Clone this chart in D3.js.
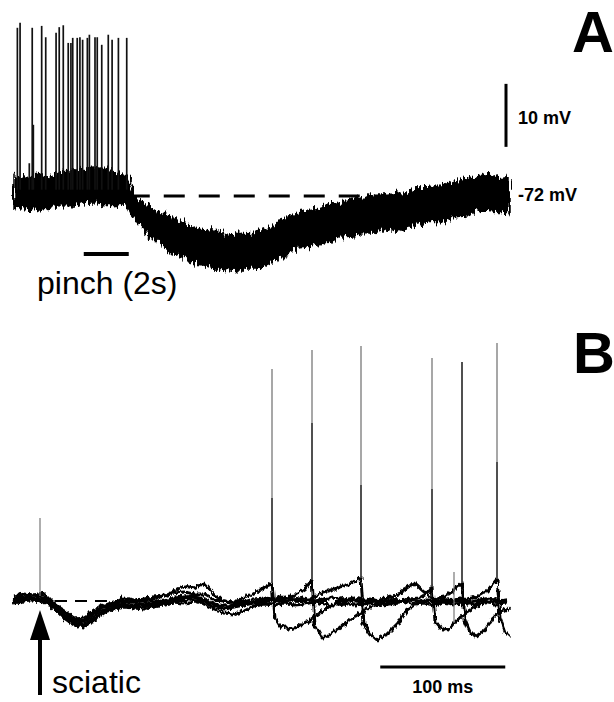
<!DOCTYPE html>
<html>
<head>
<meta charset="utf-8">
<script src="https://cdn.jsdelivr.net/npm/d3@7"></script>
<style>
body { margin: 0; background: #fff; }
text { font-family: "Liberation Sans", Arial, Helvetica, sans-serif; fill: #000; }
</style>
</head>
<body>
<div id="chart"></div>
<script>
// ---- panel A: response to pinch (time in s, potential in mV) ----
var timeA = [0,0.5,1,1.5,2,2.5,3,3.5,4,4.5,5,5.5,6,6.5,7,7.5,8,8.5,9,9.5,10,10.5,
             11,11.5,12,12.5,13,13.5,14,14.5,15,15.5,16,16.5,17,17.5,18,18.5,19,19.5,20,20.5,21,21.5,22];
// upper and lower edge of the noisy trace
var hiA = [-68.6,-69.2,-68.4,-69.0,-68.2,-67.9,-67.8,-67.4,-67.7,-68.0,-68.6,-72.6,-73.6,-74.6,-75.3,
           -76.2,-76.9,-77.5,-77.6,-78.3,-77.9,-78.0,-77.4,-76.9,-75.6,-74.9,-74.2,-74.0,-73.4,-73.1,
           -72.4,-72.3,-71.9,-71.8,-71.6,-71.5,-70.7,-70.7,-70.2,-69.9,-69.3,-69.0,-68.6,-69.1,-68.9];
var loA = [-74.0,-73.8,-74.3,-74.1,-73.5,-73.6,-73.2,-72.9,-73.4,-73.3,-73.8,-76.2,-78.3,-79.6,-80.9,
           -81.6,-82.8,-83.0,-83.6,-83.7,-83.9,-83.4,-83.5,-82.4,-81.5,-80.3,-80.1,-79.6,-79.4,-78.5,
           -78.4,-77.8,-77.9,-77.2,-77.6,-77.0,-76.5,-76.0,-76.1,-75.3,-75.2,-74.5,-74.4,-74.6,-74.6];
var spikeTimesA = [0.15,0.27,0.68,0.81,0.86,1.23,1.41,1.87,2.01,2.19,2.41,2.53,2.61,2.81,2.93,
                   3.05,3.26,3.35,3.6,3.7,3.9,4.19,4.36,4.64,5.01];
var spikePeaksA = [-45.3,-44.5,-66.8,-45.3,-60.7,-45.0,-46.8,-46.1,-45.2,-44.9,-47.7,-47.7,-46.9,-46.9,-46.8,
                   -47.2,-46.9,-46.4,-46.8,-46.8,-48.0,-46.4,-47.2,-46.9,-46.9];
var pinchA = [3.1, 5.1];        // 2 s pinch
var restA = -72;
var restLineA = [5.1, 21.9];

// ---- panel B: sciatic stimulation, 5 superimposed sweeps (ms, mV from rest) ----
var sweep1 = [[0,1.0],[8,1.4],[16,1.2],[24,1.6],[32,-0.4],[40,-2.0],[48,-3.4],[56,-3.2],[64,-2.0],[72,-0.8],
  [80,-0.4],[88,0.6],[96,0.2],[104,0.4],[112,0.8],[120,1.0],[128,1.6],[136,1.8],[144,1.4],[152,1.4],
  [160,0.2],[168,0],[176,-0.2],[184,0.6],[192,1.6],[200,2.6],[206.4,3.6],[208.8,-3.4],[212.8,-5.0],
  [220.8,-5.6],[228.8,-5.0],[236.8,-3.8],[244.8,-2.4],[252.8,-1.0],[260.8,-0.4],[268.8,0.2],[276.8,-0.2],
  [284.8,0.4],[292.8,0],[300.8,0.6],[308.8,0],[316.8,0.4],[324.8,-0.2],[332.8,0.2],[340.8,0.6],[348.8,0],
  [356.8,0.4],[364.8,-0.2],[372.8,0.2],[380.8,0.6],[388.8,0],[395.2,0.2]];
var sweep2 = [[0,0.2],[8,0.4],[16,0.6],[24,0.4],[32,-1.0],[40,-2.8],[48,-4.0],[56,-4.2],[64,-2.8],[72,-1.8],
  [80,-1.0],[88,-0.6],[96,-0.8],[104,-0.6],[112,-0.2],[120,0],[128,0.6],[136,0.8],[144,1.0],[152,0.4],
  [160,-0.6],[168,-1.0],[176,-0.8],[184,-0.6],[192,-0.2],[200,0.2],[208,0],[216,0.4],[224,1.0],[232,2.2],
  [238.4,4.2],[240.8,-4.8],[246.4,-7.4],[252.8,-6.6],[260.8,-5.4],[268.8,-3.8],[276.8,-2.4],[284.8,-1.2],
  [292.8,-0.6],[300.8,0],[308.8,-0.2],[316.8,0.4],[324.8,0.6],[331.2,1.6],[334.4,2.8],[336.8,-4.2],
  [340.8,-5.4],[347.2,-5.8],[352.8,-4.2],[360.8,-2.4],[368.8,-1.2],[376.8,-0.4],[384.8,0],[395.2,0.2]];
var sweep3 = [[0,-0.2],[8,0.2],[16,0.2],[24,0],[32,-1.4],[40,-3.2],[48,-4.4],[56,-4.8],[64,-3.4],[72,-2.2],
  [80,-1.4],[88,-0.8],[96,-1.0],[104,-1.0],[112,-0.6],[120,-0.2],[128,0.2],[136,0.4],[144,0.6],[152,0],
  [160,-1.0],[168,-1.6],[176,-1.2],[184,-0.8],[192,-0.4],[200,-0.2],[208,0.2],[216,-0.2],[224,0.2],[232,0],
  [240,0.8],[248,1.8],[256,2.4],[264,3.0],[272,3.8],[277.6,4.6],[280,-4.8],[284.8,-6.6],[290.4,-7.8],
  [298.4,-6.6],[306.4,-4.6],[314.4,-1.8],[322.4,-0.4],[330.4,0.2],[338.4,-0.2],[346.4,0.2],[354.4,0],
  [362.4,0.4],[370.4,0.8],[378.4,2.0],[386.4,4.4],[388.8,-3.4],[392.8,-6.2],[396.8,-7.2]];
var sweep4 = [[0,0.6],[8,0.8],[16,1.2],[24,1.0],[32,-0.6],[40,-2.2],[48,-3.6],[56,-3.8],[64,-2.4],[72,-1.2],
  [80,-0.6],[88,0],[96,-0.2],[104,0],[112,0.4],[120,1.0],[128,2.0],[136,3.0],[144,2.6],[152,3.6],
  [160,1.4],[168,0],[176,-0.4],[184,-0.2],[192,0.4],[200,0.6],[208,0.4],[216,0.8],[224,0.2],[232,0.6],
  [240,0],[248,0.4],[256,0.8],[264,0.2],[272,0.6],[280,0.2],[288,-0.2],[296,0.4],[304,1.0],[312,2.2],
  [320,3.6],[328,1.8],[336,0.4],[344,0.8],[350.4,1.8],[355.2,3.0],[358.4,3.6],[360.8,-3.8],[364.8,-6.2],
  [368.8,-7.2],[376.8,-5.8],[383.2,-3.4],[388.8,-2.2],[396.8,-1.4]];
var sweep5 = [[0,-0.4],[8,0],[16,0.4],[24,-0.2],[32,-1.6],[40,-3.4],[48,-4.8],[56,-5.2],[64,-3.8],[72,-2.4],
  [80,-1.6],[88,-1.2],[96,-1.4],[104,-1.6],[112,-1.0],[120,-0.6],[128,-0.2],[136,-0.4],[144,0],[152,-0.6],
  [160,-1.6],[168,-2.4],[176,-2.6],[184,-2.0],[192,-1.0],[200,-0.6],[208,-0.8],[216,-0.4],[224,-0.8],
  [232,-0.6],[240,-0.2],[248,-0.6],[256,-1.0],[264,-0.4],[272,-0.8],[280,-0.6],[288,-0.2],[296,-0.8],
  [304,-0.4],[312,0],[320,-0.6],[328,-0.4],[336,-0.8],[344,-0.2],[352,-0.6],[360,-0.4],[368,-0.8],
  [376,-0.2],[384,-0.6],[395.2,-0.4]];
var sweepsB = [sweep1, sweep2, sweep3, sweep4, sweep5];
// spikes: sweep index, time (ms), peak and level where overlapping sweeps stop darkening it (mV from rest)
var spikeSweepB = [0, 1, 2, 1, 3, 2];
var spikeTimesB = [206.4, 238.4, 277.6, 334.4, 358.4, 386.4];
var spikePeaksB = [46.4, 50.2, 51.0, 48.6, 47.8, 51.6];
var spikeDarkB = [20.6, 35.6, 23.2, 22.4, 47.8, 27.8];
var stimB = 20.8;               // stimulus artefact
var stimPeakB = 16.6;
var artefactB = [352, 5.8, -4.4];
var restLineB = [16.8, 396.8];
var barB = [293, 393];          // 100 ms

var width = 614, height = 702;

var svg = d3.select('#chart')
    .append('svg')
    .attr('width', width)
    .attr('height', height);

// rough look of a recorded trace (styling only, data untouched)
var defs = svg.append('defs');
function roughFilter(id, freq, amount) {
    var f = defs.append('filter')
        .attr('id', id)
        .attr('filterUnits', 'userSpaceOnUse')
        .attr('x', 0).attr('y', 0)
        .attr('width', width).attr('height', height);
    f.append('feTurbulence')
        .attr('type', 'fractalNoise')
        .attr('baseFrequency', freq)
        .attr('numOctaves', 2)
        .attr('seed', 4)
        .attr('result', 'n');
    f.append('feDisplacementMap')
        .attr('in', 'SourceGraphic')
        .attr('in2', 'n')
        .attr('scale', amount)
        .attr('xChannelSelector', 'R')
        .attr('yChannelSelector', 'G');
}
roughFilter('roughA', '0.45 0.06', 14);
roughFilter('roughB', '0.4 0.1', 6);

// ---------- panel A ----------
var xA = d3.scaleLinear().domain([0, 22]).range([14, 509]);
var yA = d3.scaleLinear().domain([-72, -62]).range([196, 133]);

var gA = svg.append('g');

gA.append('line')
    .attr('x1', xA(restLineA[0])).attr('x2', xA(restLineA[1]))
    .attr('y1', yA(restA)).attr('y2', yA(restA))
    .attr('stroke', '#000').attr('stroke-width', 3)
    .attr('stroke-dasharray', '21,14');

var bandA = d3.area()
    .x(function(d, i) { return xA(timeA[i]); })
    .y0(function(d, i) { return yA(loA[i]); })
    .y1(function(d, i) { return yA(hiA[i]); });

gA.append('path')
    .datum(timeA)
    .attr('d', bandA)
    .attr('fill', '#000')
    .attr('stroke', '#000')
    .attr('stroke-width', 1.5)
    .attr('filter', 'url(#roughA)');

gA.selectAll('line.spike')
    .data(spikeTimesA)
    .enter()
    .append('line')
    .attr('class', 'spike')
    .attr('x1', function(d) { return xA(d); })
    .attr('x2', function(d) { return xA(d); })
    .attr('y1', yA(-71))
    .attr('y2', function(d, i) { return yA(spikePeaksA[i]); })
    .attr('stroke', '#111')
    .attr('stroke-width', 1.7);

// pinch bar
gA.append('line')
    .attr('x1', xA(pinchA[0])).attr('x2', xA(pinchA[1]))
    .attr('y1', 254).attr('y2', 254)
    .attr('stroke', '#000').attr('stroke-width', 4);

gA.append('text').attr('x', 37).attr('y', 294)
    .attr('font-size', 32).text('pinch (2s)');

// 10 mV scale bar
gA.append('line')
    .attr('x1', 506).attr('x2', 506)
    .attr('y1', yA(-64.2)).attr('y2', yA(-54.2))
    .attr('stroke', '#000').attr('stroke-width', 3);

gA.append('text').attr('x', 518).attr('y', 124)
    .attr('font-size', 18).attr('font-weight', 'bold').text('10 mV');
gA.append('text').attr('x', 518).attr('y', 201)
    .attr('font-size', 18).attr('font-weight', 'bold').text('-72 mV');
gA.append('text').attr('x', 572).attr('y', 52)
    .attr('font-size', 58).attr('font-weight', 'bold').text('A');

// ---------- panel B ----------
var xB = d3.scaleLinear().domain([0, 400]).range([14, 514]);
var yB = d3.scaleLinear().domain([0, 10]).range([601, 551]);

var gB = svg.append('g');

gB.append('line')
    .attr('x1', xB(restLineB[0])).attr('x2', xB(restLineB[1]))
    .attr('y1', yB(0)).attr('y2', yB(0))
    .attr('stroke', '#000').attr('stroke-width', 2)
    .attr('stroke-dasharray', '12,8');

var lineB = d3.line()
    .x(function(d) { return xB(d[0]); })
    .y(function(d) { return yB(d[1]); });

gB.append('g')
    .attr('filter', 'url(#roughB)')
    .selectAll('path.sweep')
    .data(sweepsB)
    .enter()
    .append('path')
    .attr('class', 'sweep')
    .attr('d', lineB)
    .attr('fill', 'none')
    .attr('stroke', '#000')
    .attr('stroke-width', 2.9)
    .attr('stroke-linejoin', 'round');

function spikeBase(d, i) {
    var p = sweepsB[spikeSweepB[i]].find(function(q) { return q[0] === d; });
    return yB(p[1]);
}

// light upper part of each spike
gB.selectAll('line.spikeTop')
    .data(spikeTimesB)
    .enter()
    .append('line')
    .attr('class', 'spikeTop')
    .attr('x1', function(d) { return xB(d); })
    .attr('x2', function(d) { return xB(d); })
    .attr('y1', spikeBase)
    .attr('y2', function(d, i) { return yB(spikePeaksB[i]); })
    .attr('stroke', '#8a8a8a')
    .attr('stroke-width', 1.5);

// darker lower part
gB.selectAll('line.spikeLow')
    .data(spikeTimesB)
    .enter()
    .append('line')
    .attr('class', 'spikeLow')
    .attr('x1', function(d) { return xB(d); })
    .attr('x2', function(d) { return xB(d); })
    .attr('y1', spikeBase)
    .attr('y2', function(d, i) { return yB(spikeDarkB[i]); })
    .attr('stroke', '#333')
    .attr('stroke-width', 1.5);

gB.append('line')
    .attr('x1', xB(stimB)).attr('x2', xB(stimB))
    .attr('y1', yB(1)).attr('y2', yB(stimPeakB))
    .attr('stroke', '#777').attr('stroke-width', 1.2);

gB.append('line')
    .attr('x1', xB(artefactB[0])).attr('x2', xB(artefactB[0]))
    .attr('y1', yB(artefactB[1])).attr('y2', yB(artefactB[2]))
    .attr('stroke', '#777').attr('stroke-width', 1.2);

// stimulus arrow
var ax = xB(stimB);
gB.append('line')
    .attr('x1', ax).attr('x2', ax)
    .attr('y1', 636).attr('y2', 695)
    .attr('stroke', '#000').attr('stroke-width', 4);
gB.append('path')
    .attr('d', 'M' + ax + ',610 L' + (ax - 10) + ',640 L' + (ax + 10) + ',640 Z')
    .attr('fill', '#000');

gB.append('text').attr('x', 52).attr('y', 693)
    .attr('font-size', 32).text('sciatic');

// 100 ms bar
gB.append('line')
    .attr('x1', xB(barB[0])).attr('x2', xB(barB[1]))
    .attr('y1', 667).attr('y2', 667)
    .attr('stroke', '#000').attr('stroke-width', 3);
gB.append('text').attr('x', (xB(barB[0]) + xB(barB[1])) / 2).attr('y', 693)
    .attr('text-anchor', 'middle')
    .attr('font-size', 18).attr('font-weight', 'bold').text('100 ms');

gB.append('text').attr('x', 573).attr('y', 373)
    .attr('font-size', 58).attr('font-weight', 'bold').text('B');
</script>
</body>
</html>
